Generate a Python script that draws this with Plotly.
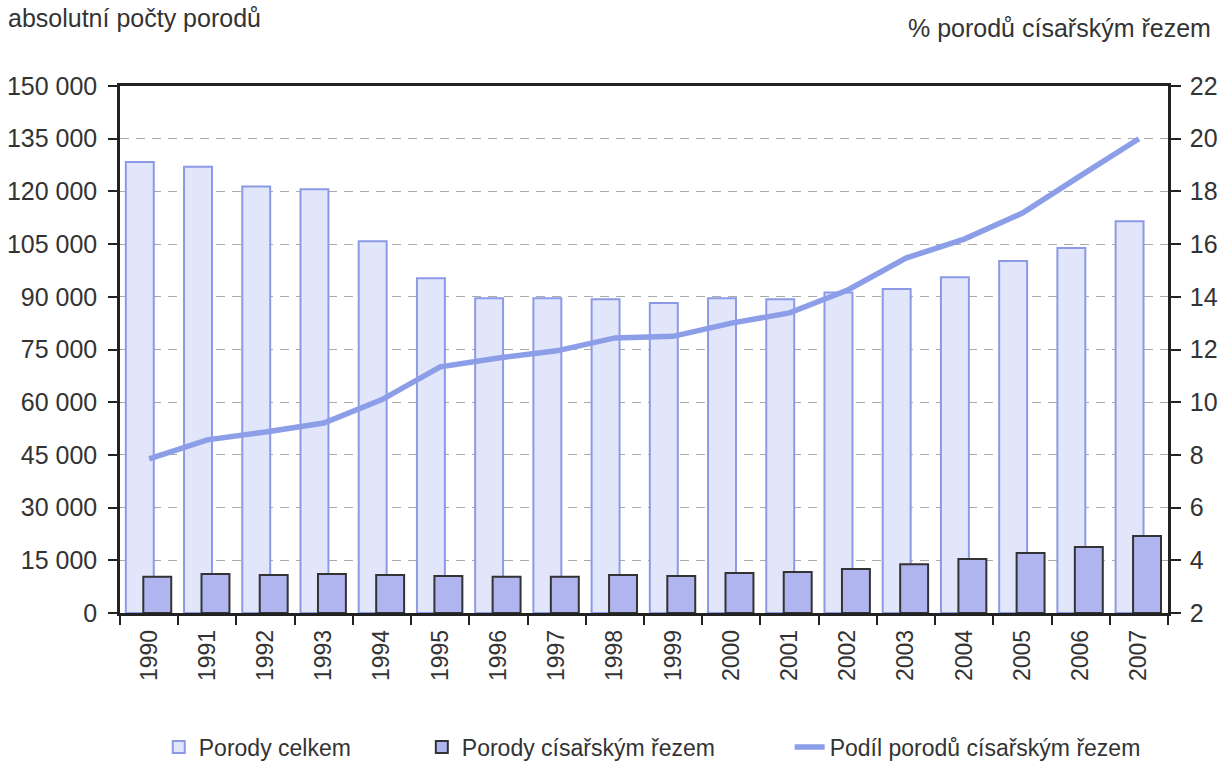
import plotly.graph_objects as go

years = [str(y) for y in range(1990, 2008)]
porody_celkem = [128400, 127000, 121400, 120600, 105800, 95300, 89600, 89600, 89300, 88200,
                 89600, 89300, 91200, 92200, 95600, 100200, 103900, 111500]
porody_cis = [10300, 11100, 10800, 11100, 10800, 10500, 10300, 10300, 10800, 10500,
              11400, 11700, 12500, 13900, 15400, 17100, 18800, 21900]
podil = [7.85, 8.57, 8.87, 9.21, 10.1, 11.34, 11.68, 11.95, 12.44, 12.5,
         13.0, 13.39, 14.26, 15.47, 16.19, 17.18, 18.6, 20.0]

left_ticks = [0, 15000, 30000, 45000, 60000, 75000, 90000, 105000, 120000, 135000, 150000]
left_ticktext = ["0", "15 000", "30 000", "45 000", "60 000", "75 000", "90 000",
                 "105 000", "120 000", "135 000", "150 000"]
right_ticks = [2, 4, 6, 8, 10, 12, 14, 16, 18, 20, 22]

font_family = "Liberation Sans, Arial, sans-serif"
txt = "#333333"

fig = go.Figure()
fig.add_trace(go.Bar(
    x=years, y=porody_celkem, name="Porody celkem", legend="legend",
    width=0.48, offset=-0.40,
    marker=dict(color="#e2e6fb", line=dict(color="#8c9ae6", width=2)),
))
fig.add_trace(go.Bar(
    x=years, y=porody_cis, name="Porody císařským řezem", legend="legend2",
    width=0.48, offset=-0.10,
    marker=dict(color="#b0b5ef", line=dict(color="#333333", width=2)),
))
fig.add_trace(go.Scatter(
    x=years, y=podil, name="Podíl porodů císařským řezem", yaxis="y2", legend="legend3",
    mode="lines", line=dict(color="#8d9ee8", width=5.5),
))

leg_common = dict(orientation="h", yref="container", y=1 - 747 / 765,
                  xanchor="left", yanchor="middle",
                  font=dict(size=23, color=txt), itemwidth=30,
                  bgcolor="rgba(0,0,0,0)")

fig.update_layout(
    width=1231, height=765,
    margin=dict(l=120, r=63, t=86, b=152),
    paper_bgcolor="white", plot_bgcolor="white",
    barmode="overlay", showlegend=True,
    font=dict(family=font_family, color=txt, size=22),
    xaxis=dict(
        type="category", tickangle=-90, showline=True, linecolor="#222", linewidth=2.5,
        mirror=True, ticks="outside", ticklen=9, tickwidth=2, tickcolor="#222",
        tickson="boundaries", showgrid=False, tickfont=dict(size=23, color=txt),
        ticklabelstandoff=5, range=[-0.5, 17.5], automargin=False,
    ),
    yaxis=dict(
        range=[0, 150000], tickvals=left_ticks, ticktext=left_ticktext,
        showline=True, linecolor="#222", linewidth=2.5, ticks="outside", ticklen=9,
        tickwidth=2, tickcolor="#222", showgrid=True, gridcolor="#aaaaaa",
        griddash="9px,7px", gridwidth=1, zeroline=False, tickfont=dict(size=25, color=txt),
        ticklabelstandoff=6, automargin=False,
    ),
    yaxis2=dict(
        range=[2, 22], tickvals=right_ticks, overlaying="y", side="right",
        showline=True, linecolor="#222", linewidth=2.5, ticks="outside", ticklen=10,
        tickwidth=2, tickcolor="#222", showgrid=False, zeroline=False,
        tickfont=dict(size=25, color=txt), ticklabelstandoff=4, automargin=False,
    ),
    legend=dict(x=0.037, **leg_common),
    legend2=dict(x=0.288, **leg_common),
    legend3=dict(x=0.639, **leg_common),
    annotations=[
        dict(text="absolutní počty porodů", xref="paper", yref="paper", x=0, xshift=-114,
             y=1, yshift=68, xanchor="left", yanchor="middle", showarrow=False,
             font=dict(size=25, color=txt)),
        dict(text="% porodů císařským řezem", xref="paper", yref="paper", x=1, xshift=45,
             y=1, yshift=58, xanchor="right", yanchor="middle", showarrow=False,
             font=dict(size=25, color=txt)),
    ],
)

fig.write_html("out.html")
